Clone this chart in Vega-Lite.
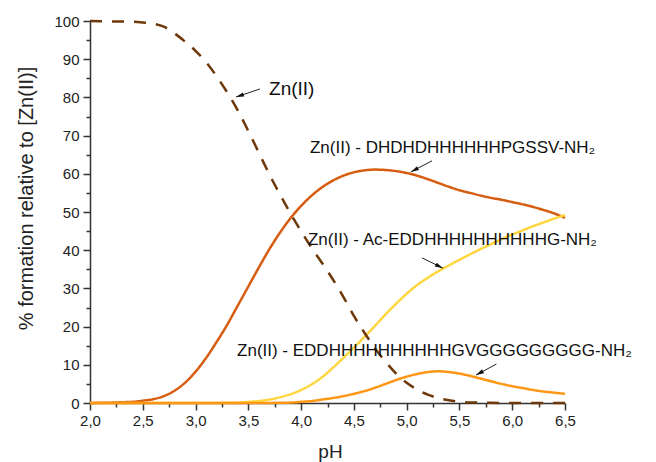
{
  "$schema": "https://vega.github.io/schema/vega-lite/v6.json",
  "width": 475,
  "height": 382,
  "autosize": "none",
  "padding": {"left": 90, "top": 21, "right": 91, "bottom": 59},
  "background": "white",
  "config": {"view": {"stroke": null}, "font": "Liberation Sans", "axis": {"grid": false}},
  "resolve": {"axis": {"x": "independent", "y": "independent"}},
  "datasets": {
    "curves": [
      {"pH":2.0,"pct":0,"species":"DHDHD"},{"pH":2.1,"pct":0.05,"species":"DHDHD"},{"pH":2.2,"pct":0.1,"species":"DHDHD"},{"pH":2.3,"pct":0.2,"species":"DHDHD"},{"pH":2.4,"pct":0.3,"species":"DHDHD"},{"pH":2.5,"pct":0.6,"species":"DHDHD"},{"pH":2.6,"pct":1.0,"species":"DHDHD"},{"pH":2.7,"pct":1.8,"species":"DHDHD"},{"pH":2.8,"pct":3.2,"species":"DHDHD"},{"pH":2.9,"pct":5.3,"species":"DHDHD"},{"pH":3.0,"pct":8.2,"species":"DHDHD"},{"pH":3.1,"pct":11.8,"species":"DHDHD"},{"pH":3.2,"pct":16.0,"species":"DHDHD"},{"pH":3.3,"pct":20.5,"species":"DHDHD"},{"pH":3.4,"pct":25.5,"species":"DHDHD"},{"pH":3.5,"pct":30.5,"species":"DHDHD"},{"pH":3.6,"pct":35.5,"species":"DHDHD"},{"pH":3.7,"pct":40.3,"species":"DHDHD"},{"pH":3.8,"pct":44.6,"species":"DHDHD"},{"pH":3.9,"pct":48.4,"species":"DHDHD"},{"pH":4.0,"pct":51.6,"species":"DHDHD"},{"pH":4.1,"pct":54.3,"species":"DHDHD"},{"pH":4.2,"pct":56.5,"species":"DHDHD"},{"pH":4.3,"pct":58.2,"species":"DHDHD"},{"pH":4.4,"pct":59.5,"species":"DHDHD"},{"pH":4.5,"pct":60.4,"species":"DHDHD"},{"pH":4.6,"pct":60.9,"species":"DHDHD"},{"pH":4.7,"pct":61.1,"species":"DHDHD"},{"pH":4.8,"pct":61.0,"species":"DHDHD"},{"pH":4.9,"pct":60.7,"species":"DHDHD"},{"pH":5.0,"pct":60.2,"species":"DHDHD"},{"pH":5.1,"pct":59.5,"species":"DHDHD"},{"pH":5.2,"pct":58.6,"species":"DHDHD"},{"pH":5.3,"pct":57.6,"species":"DHDHD"},{"pH":5.4,"pct":56.6,"species":"DHDHD"},{"pH":5.5,"pct":55.7,"species":"DHDHD"},{"pH":5.6,"pct":55.0,"species":"DHDHD"},{"pH":5.7,"pct":54.3,"species":"DHDHD"},{"pH":5.8,"pct":53.7,"species":"DHDHD"},{"pH":5.9,"pct":53.2,"species":"DHDHD"},{"pH":6.0,"pct":52.6,"species":"DHDHD"},{"pH":6.1,"pct":52.0,"species":"DHDHD"},{"pH":6.2,"pct":51.3,"species":"DHDHD"},{"pH":6.3,"pct":50.5,"species":"DHDHD"},{"pH":6.4,"pct":49.6,"species":"DHDHD"},{"pH":6.5,"pct":48.5,"species":"DHDHD"},
      {"pH":2.0,"pct":0,"species":"Ac-EDD"},{"pH":3.0,"pct":0,"species":"Ac-EDD"},{"pH":3.3,"pct":0.05,"species":"Ac-EDD"},{"pH":3.4,"pct":0.1,"species":"Ac-EDD"},{"pH":3.5,"pct":0.3,"species":"Ac-EDD"},{"pH":3.6,"pct":0.5,"species":"Ac-EDD"},{"pH":3.7,"pct":0.9,"species":"Ac-EDD"},{"pH":3.8,"pct":1.5,"species":"Ac-EDD"},{"pH":3.9,"pct":2.3,"species":"Ac-EDD"},{"pH":4.0,"pct":3.4,"species":"Ac-EDD"},{"pH":4.1,"pct":4.9,"species":"Ac-EDD"},{"pH":4.2,"pct":6.8,"species":"Ac-EDD"},{"pH":4.3,"pct":9.2,"species":"Ac-EDD"},{"pH":4.4,"pct":11.8,"species":"Ac-EDD"},{"pH":4.5,"pct":14.5,"species":"Ac-EDD"},{"pH":4.6,"pct":17.3,"species":"Ac-EDD"},{"pH":4.7,"pct":20.2,"species":"Ac-EDD"},{"pH":4.8,"pct":23.2,"species":"Ac-EDD"},{"pH":4.9,"pct":26.0,"species":"Ac-EDD"},{"pH":5.0,"pct":28.6,"species":"Ac-EDD"},{"pH":5.1,"pct":30.9,"species":"Ac-EDD"},{"pH":5.2,"pct":32.8,"species":"Ac-EDD"},{"pH":5.3,"pct":34.5,"species":"Ac-EDD"},{"pH":5.4,"pct":36.0,"species":"Ac-EDD"},{"pH":5.5,"pct":37.5,"species":"Ac-EDD"},{"pH":5.6,"pct":38.9,"species":"Ac-EDD"},{"pH":5.7,"pct":40.3,"species":"Ac-EDD"},{"pH":5.8,"pct":41.6,"species":"Ac-EDD"},{"pH":5.9,"pct":42.9,"species":"Ac-EDD"},{"pH":6.0,"pct":44.1,"species":"Ac-EDD"},{"pH":6.1,"pct":45.2,"species":"Ac-EDD"},{"pH":6.2,"pct":46.3,"species":"Ac-EDD"},{"pH":6.3,"pct":47.3,"species":"Ac-EDD"},{"pH":6.4,"pct":48.3,"species":"Ac-EDD"},{"pH":6.5,"pct":49.2,"species":"Ac-EDD"},
      {"pH":2.0,"pct":0,"species":"EDDH"},{"pH":3.5,"pct":0,"species":"EDDH"},{"pH":3.8,"pct":0.05,"species":"EDDH"},{"pH":3.9,"pct":0.1,"species":"EDDH"},{"pH":4.0,"pct":0.3,"species":"EDDH"},{"pH":4.1,"pct":0.5,"species":"EDDH"},{"pH":4.2,"pct":0.9,"species":"EDDH"},{"pH":4.3,"pct":1.3,"species":"EDDH"},{"pH":4.4,"pct":1.8,"species":"EDDH"},{"pH":4.5,"pct":2.4,"species":"EDDH"},{"pH":4.6,"pct":3.1,"species":"EDDH"},{"pH":4.7,"pct":4.0,"species":"EDDH"},{"pH":4.8,"pct":5.0,"species":"EDDH"},{"pH":4.9,"pct":6.0,"species":"EDDH"},{"pH":5.0,"pct":6.9,"species":"EDDH"},{"pH":5.1,"pct":7.6,"species":"EDDH"},{"pH":5.2,"pct":8.1,"species":"EDDH"},{"pH":5.3,"pct":8.3,"species":"EDDH"},{"pH":5.4,"pct":8.1,"species":"EDDH"},{"pH":5.5,"pct":7.7,"species":"EDDH"},{"pH":5.6,"pct":7.1,"species":"EDDH"},{"pH":5.7,"pct":6.4,"species":"EDDH"},{"pH":5.8,"pct":5.7,"species":"EDDH"},{"pH":5.9,"pct":5.0,"species":"EDDH"},{"pH":6.0,"pct":4.4,"species":"EDDH"},{"pH":6.1,"pct":3.9,"species":"EDDH"},{"pH":6.2,"pct":3.4,"species":"EDDH"},{"pH":6.3,"pct":3.0,"species":"EDDH"},{"pH":6.4,"pct":2.7,"species":"EDDH"},{"pH":6.5,"pct":2.4,"species":"EDDH"},
      {"pH":2.0,"pct":100,"species":"Zn(II)"},{"pH":2.2,"pct":99.9,"species":"Zn(II)"},{"pH":2.4,"pct":99.8,"species":"Zn(II)"},{"pH":2.5,"pct":99.6,"species":"Zn(II)"},{"pH":2.6,"pct":99.3,"species":"Zn(II)"},{"pH":2.7,"pct":98.5,"species":"Zn(II)"},{"pH":2.8,"pct":96.8,"species":"Zn(II)"},{"pH":2.9,"pct":94.6,"species":"Zn(II)"},{"pH":3.0,"pct":92.2,"species":"Zn(II)"},{"pH":3.1,"pct":89.2,"species":"Zn(II)"},{"pH":3.2,"pct":85.5,"species":"Zn(II)"},{"pH":3.3,"pct":81.3,"species":"Zn(II)"},{"pH":3.4,"pct":76.6,"species":"Zn(II)"},{"pH":3.5,"pct":71.2,"species":"Zn(II)"},{"pH":3.6,"pct":65.5,"species":"Zn(II)"},{"pH":3.7,"pct":59.8,"species":"Zn(II)"},{"pH":3.8,"pct":54.6,"species":"Zn(II)"},{"pH":3.9,"pct":49.6,"species":"Zn(II)"},{"pH":4.0,"pct":45.0,"species":"Zn(II)"},{"pH":4.1,"pct":40.6,"species":"Zn(II)"},{"pH":4.2,"pct":36.6,"species":"Zn(II)"},{"pH":4.3,"pct":32.4,"species":"Zn(II)"},{"pH":4.4,"pct":27.8,"species":"Zn(II)"},{"pH":4.5,"pct":22.8,"species":"Zn(II)"},{"pH":4.6,"pct":18.4,"species":"Zn(II)"},{"pH":4.7,"pct":14.3,"species":"Zn(II)"},{"pH":4.8,"pct":10.8,"species":"Zn(II)"},{"pH":4.9,"pct":7.7,"species":"Zn(II)"},{"pH":5.0,"pct":5.3,"species":"Zn(II)"},{"pH":5.1,"pct":3.5,"species":"Zn(II)"},{"pH":5.2,"pct":2.2,"species":"Zn(II)"},{"pH":5.3,"pct":1.3,"species":"Zn(II)"},{"pH":5.4,"pct":0.7,"species":"Zn(II)"},{"pH":5.5,"pct":0.35,"species":"Zn(II)"},{"pH":5.6,"pct":0.15,"species":"Zn(II)"},{"pH":5.8,"pct":0.05,"species":"Zn(II)"},{"pH":6.0,"pct":0,"species":"Zn(II)"},{"pH":6.5,"pct":0,"species":"Zn(II)"}
    ],
    "labels": [
      {"pH":3.696,"pct":80.6,"text":"Zn(II)"},
      {"pH":4.084,"pct":65.4,"text":"Zn(II) - DHDHDHHHHHHPGSSV-NH₂"},
      {"pH":4.065,"pct":41.4,"text":"Zn(II) - Ac-EDDHHHHHHHHHHG-NH₂"},
      {"pH":3.393,"pct":12.2,"text":"Zn(II) - EDDHHHHHHHHHHGVGGGGGGGGG-NH₂"}
    ],
    "arrows": [
      {"id":"a1","pH":3.61,"pct":82.2,"pH2":3.383,"pct2":80.1},
      {"id":"a2","pH":5.24,"pct":63.4,"pH2":5.04,"pct2":60.5},
      {"id":"a3","pH":5.145,"pct":38.0,"pH2":5.344,"pct2":35.3},
      {"id":"a4","pH":5.85,"pct":10.2,"pH2":5.657,"pct2":7.3}
    ]
  },
  "layer": [
    {
      "data": {"name": "curves"},
      "mark": {"type": "line", "strokeWidth": 2.5, "interpolate": "monotone"},
      "encoding": {
        "x": {
          "field": "pH", "type": "quantitative",
          "scale": {"domain": [2, 6.5], "nice": false, "zero": false},
          "axis": {
            "orient": "bottom",
            "title": "pH",
            "values": [2,2.5,3,3.5,4,4.5,5,5.5,6,6.5],
            "labelExpr": "replace(format(datum.value, '.1f'), '.', ',')",
            "tickSize": 7,
            "labelFlush": false, "labelOverlap": false,
            "labelFontSize": 15, "labelColor": "#222", "labelPadding": 3,
            "domainColor": "#333", "domainWidth": 1.5, "tickColor": "#333", "tickWidth": 1.5,
            "titleFontSize": 19, "titleFontWeight": "normal", "titleColor": "#222",
            "titleX": 240, "titleY": 54, "titleBaseline": "alphabetic", "titleAlign": "center"
          }
        },
        "y": {
          "field": "pct", "type": "quantitative",
          "scale": {"domain": [0, 100], "nice": false},
          "axis": {
            "orient": "left",
            "title": "% formation relative to [Zn(II)]",
            "values": [0,10,20,30,40,50,60,70,80,90,100],
            "tickSize": 7,
            "labelOverlap": false, "labelFlush": false,
            "labelFontSize": 15, "labelColor": "#222", "labelPadding": 4,
            "domainColor": "#333", "domainWidth": 1.5, "tickColor": "#333", "tickWidth": 1.5,
            "titleFontSize": 20, "titleFontWeight": "normal", "titleColor": "#222",
            "titleX": -64, "titleY": 177, "titleAngle": -90, "titleBaseline": "middle", "titleAlign": "center"
          }
        },
        "color": {
          "field": "species", "type": "nominal",
          "scale": {"domain": ["DHDHD", "Ac-EDD", "EDDH", "Zn(II)"], "range": ["#d65c10", "#ffd640", "#ff9614", "#6e380a"]},
          "legend": null
        },
        "strokeDash": {
          "field": "species", "type": "nominal",
          "scale": {"domain": ["DHDHD", "Ac-EDD", "EDDH", "Zn(II)"], "range": [[1, 0], [1, 0], [1, 0], [12, 10]]},
          "legend": null
        }
      }
    },
    {
      "data": {"name": "labels"},
      "mark": {"type": "text", "align": "left", "baseline": "alphabetic", "color": "#111", "font": "Liberation Sans"},
      "encoding": {
        "x": {
          "field": "pH", "type": "quantitative",
          "axis": {"orient": "bottom", "values": [2.25,2.75,3.25,3.75,4.25,4.75,5.25,5.75,6.25], "labels": false, "domain": false, "tickSize": 4, "tickColor": "#333", "tickWidth": 1.5, "title": null}
        },
        "y": {
          "field": "pct", "type": "quantitative",
          "axis": {"orient": "left", "values": [5,15,25,35,45,55,65,75,85,95], "labels": false, "domain": false, "tickSize": 4, "tickColor": "#333", "tickWidth": 1.5, "title": null}
        },
        "text": {"field": "text"},
        "size": {"condition": {"test": "datum.text === 'Zn(II)'", "value": 19}, "value": 17}
      }
    },
    {
      "data": {"name": "arrows"},
      "mark": {"type": "rule", "color": "#222", "strokeWidth": 1},
      "encoding": {
        "x": {"field": "pH", "type": "quantitative", "axis": null},
        "y": {"field": "pct", "type": "quantitative", "axis": null},
        "x2": {"field": "pH2"},
        "y2": {"field": "pct2"}
      }
    },
    {
      "data": {"name": "arrows"},
      "transform": [{"filter": "datum.id === 'a1'"}],
      "mark": {"type": "point", "shape": "M0,0L-0.55,2L0.55,2Z", "filled": true, "opacity": 1, "size": 64, "angle": 251.6, "color": "#111"},
      "encoding": {"x": {"field": "pH2", "type": "quantitative", "axis": null}, "y": {"field": "pct2", "type": "quantitative", "axis": null}}
    },
    {
      "data": {"name": "arrows"},
      "transform": [{"filter": "datum.id === 'a2'"}],
      "mark": {"type": "point", "shape": "M0,0L-0.55,2L0.55,2Z", "filled": true, "opacity": 1, "size": 64, "angle": 242.3, "color": "#111"},
      "encoding": {"x": {"field": "pH2", "type": "quantitative", "axis": null}, "y": {"field": "pct2", "type": "quantitative", "axis": null}}
    },
    {
      "data": {"name": "arrows"},
      "transform": [{"filter": "datum.id === 'a3'"}],
      "mark": {"type": "point", "shape": "M0,0L-0.55,2L0.55,2Z", "filled": true, "opacity": 1, "size": 64, "angle": 116.1, "color": "#111"},
      "encoding": {"x": {"field": "pH2", "type": "quantitative", "axis": null}, "y": {"field": "pct2", "type": "quantitative", "axis": null}}
    },
    {
      "data": {"name": "arrows"},
      "transform": [{"filter": "datum.id === 'a4'"}],
      "mark": {"type": "point", "shape": "M0,0L-0.55,2L0.55,2Z", "filled": true, "opacity": 1, "size": 64, "angle": 241.4, "color": "#111"},
      "encoding": {"x": {"field": "pH2", "type": "quantitative", "axis": null}, "y": {"field": "pct2", "type": "quantitative", "axis": null}}
    }
  ]
}
